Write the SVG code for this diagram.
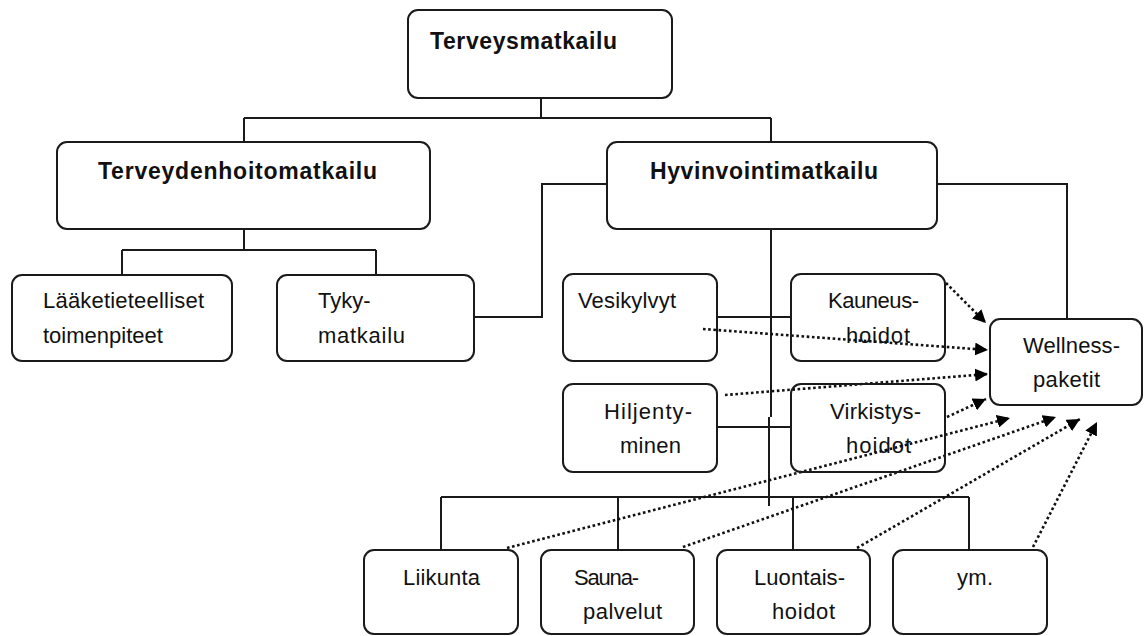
<svg xmlns="http://www.w3.org/2000/svg" width="1147" height="636" viewBox="0 0 1147 636">
<defs>
<marker id="ah" viewBox="0 0 10 10" refX="10" refY="5" markerWidth="5" markerHeight="5" orient="auto" markerUnits="strokeWidth">
<path d="M0,0 L10,5 L0,10 z" fill="#000"/>
</marker>
<style>
.box{fill:none;stroke:#1a1a1a;stroke-width:2}
.t{font-family:"Liberation Sans",Arial,sans-serif;font-size:22px;fill:#111}
.b{font-weight:bold;font-size:23px}
.ln{fill:none;stroke:#1a1a1a;stroke-width:2}
.dot{fill:none;stroke:#111;stroke-width:2.6;stroke-dasharray:2.6 2.6;marker-end:url(#ah)}
</style>
</defs>
<rect width="1147" height="636" fill="#fff"/>
<g id="connectors">
<path class="ln" d="M541,98 V118 M244,118 H771 M244,118 V142 M771,118 V142"/>
<path class="ln" d="M244,229 V250 M122,250 H376 M122,250 V275 M376,250 V275"/>
<path class="ln" d="M474,317 H542 V184 H607"/>
<path class="ln" d="M937,184 H1067 V319"/>
<path class="ln" d="M771,229 V417 M769,417 V506"/>
<path class="ln" d="M716,317 H792 M716,427 H792"/>
<path class="ln" d="M441,497 H969 M441,497 V550 M618,497 V550 M793,497 V550 M969,497 V550"/>
<path class="dot" d="M946,283 L986,323"/>
<path class="dot" d="M703,329 L988,350"/>
<path class="dot" d="M725,395 L988,374"/>
<path class="dot" d="M947,417 L986,399"/>
<path class="dot" d="M507,548 L1010,418"/>
<path class="dot" d="M683,547 L1056,417"/>
<path class="dot" d="M857,548 L1080,419"/>
<path class="dot" d="M1033,547 L1097,422"/>
</g>
<g id="terveysmatkailu"><rect class="box" x="408" y="10" width="264" height="88" rx="10"/><text class="t b" x="430" y="49" textLength="187">Terveysmatkailu</text></g>
<g id="terveydenhoitomatkailu"><rect class="box" x="57" y="142" width="373" height="87" rx="10"/><text class="t b" x="98" y="179" textLength="279">Terveydenhoitomatkailu</text></g>
<g id="hyvinvointimatkailu"><rect class="box" x="607" y="142" width="330" height="87" rx="10"/><text class="t b" x="650" y="179" textLength="228">Hyvinvointimatkailu</text></g>
<g id="laaketieteelliset"><rect class="box" x="12" y="275" width="220" height="86" rx="10"/><text class="t" x="43" y="308" textLength="161">Lääketieteelliset</text><text class="t" x="43" y="343">toimenpiteet</text></g>
<g id="tyky"><rect class="box" x="277" y="275" width="197" height="86" rx="10"/><text class="t" x="318" y="308">Tyky-</text><text class="t" x="318" y="343" textLength="87">matkailu</text></g>
<g id="vesikylvyt"><rect class="box" x="563" y="274" width="154" height="87" rx="10"/><text class="t" x="578" y="308" textLength="98">Vesikylvyt</text></g>
<g id="kauneushoidot"><rect class="box" x="791" y="274" width="154" height="87" rx="10"/><text class="t" x="828" y="308" textLength="91">Kauneus-</text><text class="t" x="846" y="343" textLength="64">hoidot</text></g>
<g id="hiljentyminen"><rect class="box" x="563" y="384" width="154" height="88" rx="10"/><text class="t" x="604" y="419" textLength="88">Hiljenty-</text><text class="t" x="620" y="453" textLength="61">minen</text></g>
<g id="virkistyshoidot"><rect class="box" x="791" y="384" width="154" height="88" rx="10"/><text class="t" x="830" y="419" textLength="91">Virkistys-</text><text class="t" x="846" y="453" textLength="65">hoidot</text></g>
<g id="wellness"><rect class="box" x="990" y="319" width="152" height="86" rx="10"/><text class="t" x="1023" y="353" textLength="97">Wellness-</text><text class="t" x="1033" y="387" textLength="67">paketit</text></g>
<g id="liikunta"><rect class="box" x="364" y="550" width="154" height="84" rx="10"/><text class="t" x="403" y="585" textLength="77">Liikunta</text></g>
<g id="saunapalvelut"><rect class="box" x="541" y="550" width="153" height="84" rx="10"/><text class="t" x="574" y="585" textLength="65">Sauna-</text><text class="t" x="583" y="619" textLength="79">palvelut</text></g>
<g id="luontaishoidot"><rect class="box" x="717" y="550" width="153" height="84" rx="10"/><text class="t" x="754" y="585" textLength="91">Luontais-</text><text class="t" x="772" y="619" textLength="63">hoidot</text></g>
<g id="ym"><rect class="box" x="893" y="550" width="154" height="84" rx="10"/><text class="t" x="957" y="585" textLength="36">ym.</text></g>
</svg>
